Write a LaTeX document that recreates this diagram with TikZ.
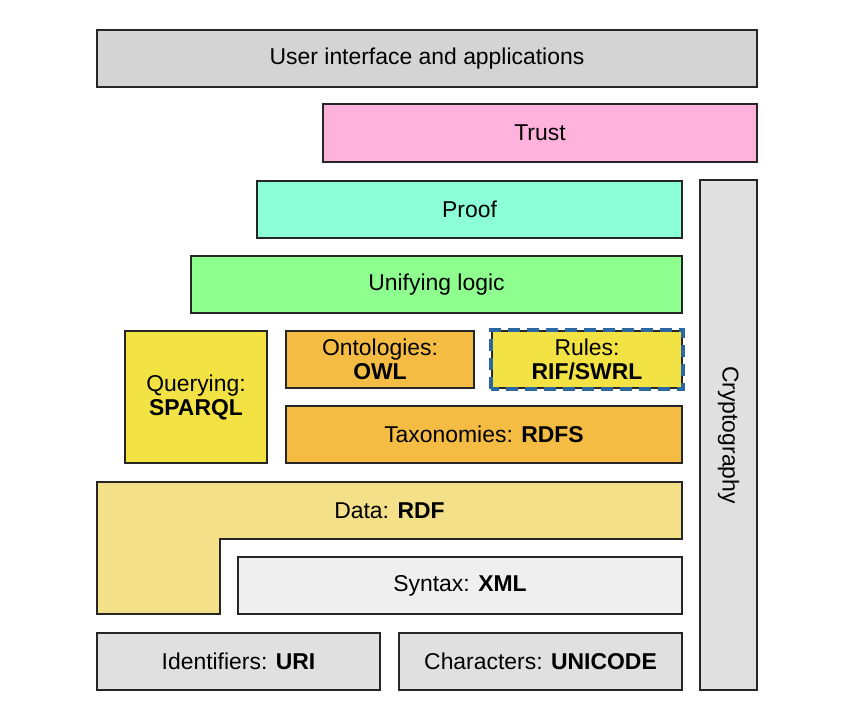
\documentclass[tikz,border=0pt]{standalone}
\usepackage{fontspec}
\setmainfont{Liberation Sans}
\usetikzlibrary{positioning}

\definecolor{uigray}{HTML}{D4D4D4}
\definecolor{trustpink}{HTML}{FFB3DC}
\definecolor{proofgreen}{HTML}{8CFFD8}
\definecolor{logicgreen}{HTML}{8EFF8E}
\definecolor{queryyellow}{HTML}{F2E244}
\definecolor{ontoorange}{HTML}{F4BC43}
\definecolor{datayellow}{HTML}{F4E088}
\definecolor{syntaxgray}{HTML}{EFEFEF}
\definecolor{basegray}{HTML}{E0E0E0}
\definecolor{rulesblue}{HTML}{2B67A0}

\begin{document}
\begin{tikzpicture}[
    x=1bp, y=-1bp,
    every node/.style={font=\fontsize{23}{24}\selectfont},
    layer/.style={draw=black!85, line width=2bp, align=center, inner sep=0pt, minimum height=57bp},
    rulesline/.style={draw=rulesblue, line width=4bp, dash pattern=on 12bp off 7bp}
]
\useasboundingbox (0,0) rectangle (852,703);

% top of the stack
\node[layer, fill=uigray, minimum width=660bp] (ui) at (427,58.5) {User interface and applications};
\node[layer, fill=trustpink, minimum width=434bp] (trust) at (540,133) {Trust};
\node[layer, fill=proofgreen, minimum width=425bp] (proof) at (469.5,209) {Proof};
\node[layer, fill=logicgreen, minimum width=491bp] (logic) at (436.5,284.5) {Unifying logic};
\node[layer, fill=basegray, minimum width=57bp, minimum height=510bp] (crypto) at (728.5,435) {};
\node[rotate=-90] (cryptotext) at (crypto.center) {Cryptography};

% query, ontologies, rules, taxonomies
\node[layer, fill=queryyellow, minimum width=142bp, minimum height=132bp] (query) at (196,397) {Querying:\\\textbf{SPARQL}};
\node[layer, fill=ontoorange, minimum width=188bp] (onto) at (380,359.5) {Ontologies:\\\textbf{OWL}};
\node[layer, fill=queryyellow, minimum width=190bp] (rules) at (587,359.5) {Rules:\\\textbf{RIF/SWRL}};
\draw[rulesline] (rules.south west) rectangle (rules.north east);
\node[layer, fill=ontoorange, minimum width=396bp] (tax) at (484,434.5) {Taxonomies: \textbf{RDFS}};

% data and syntax
\draw[draw=black!85, line width=2bp, fill=datayellow]
    (97,482) -- (682,482) -- (682,539) -- (220,539) -- (220,614) -- (97,614) -- cycle;
\node (data) at (389.5,510.5) {Data: \textbf{RDF}};
\node[layer, fill=syntaxgray, minimum width=444bp] (syntax) at (460,585.5) {Syntax: \textbf{XML}};

% bottom
\node[layer, fill=basegray, minimum width=283bp] (uri) at (238.5,661.5) {Identifiers: \textbf{URI}};
\node[layer, fill=basegray, minimum width=283bp] (unicode) at (540.5,661.5) {Characters: \textbf{UNICODE}};
\end{tikzpicture}
\end{document}
